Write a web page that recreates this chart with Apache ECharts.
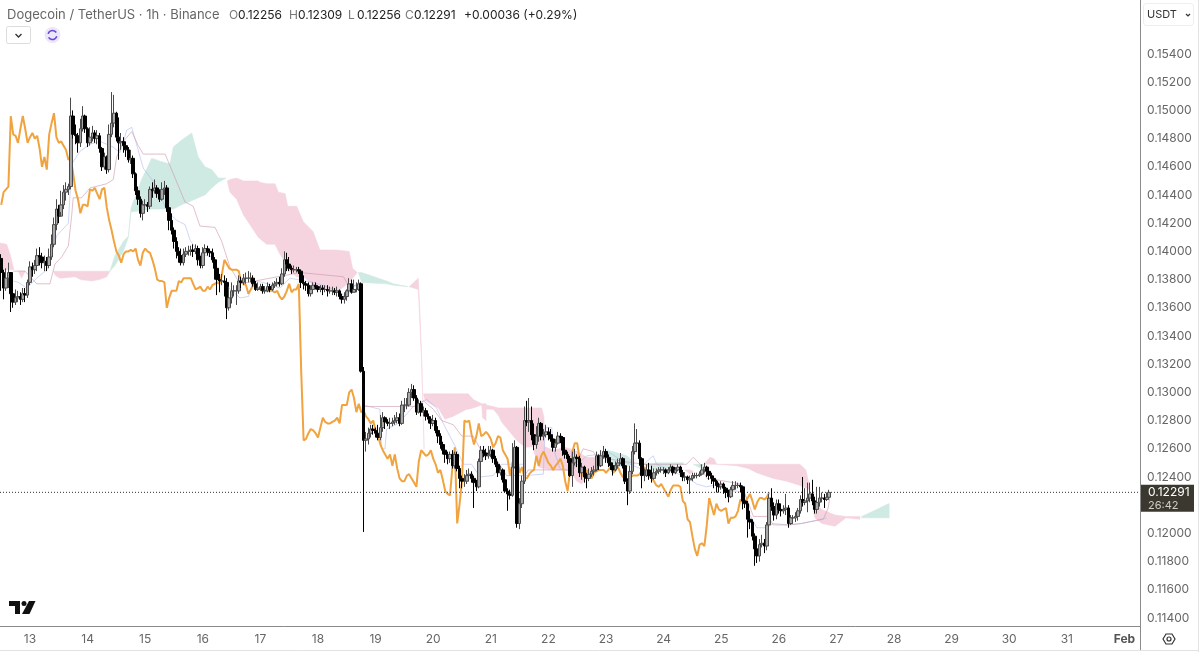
<!DOCTYPE html>
<html><head><meta charset="utf-8"><title>DOGE/USDT</title>
<style>html,body{margin:0;padding:0;background:#fff}#c{width:1199px;height:652px}</style>
<script src="https://cdn.jsdelivr.net/npm/echarts@6/dist/echarts.min.js"></script></head>
<body><div id="c"></div>
<script>
const firstOpen = 0.1395;
const chikouShift = 25;
const closes = [
.1385,.1374,.1381,.1385,.1370,.1364,.1367,.1368,.1366,.1370,.1369,.1378,.1389,.1387,.1390,.1397,.1396,.1392,.1393,.1390,.1396,.1405,.1419,.1430,.1425,
.1433,.1442,.1444,.1446,.1496,.1483,.1482,.1477,.1487,.1496,
.1487,.1477,.1481,.1484,.1480,.1482,.1473,.1460,.1467,.1458,
.1483,.1491,.1498,.1481,.1477,.1478,.1475,.1472,.1465,.1466,
.1455,.1443,.1437,.1427,.1433,.1433,.1432,.1444,.1443,.1445,
.1441,.1437,.1444,.1445,.1431,.1422,.1415,.1407,.1400,.1397,
.1392,.1398,.1400,.1400,.1401,.1400,.1402,.1394,.1390,.1399,
.1402,.1400,.1399,.1394,.1388,.1380,.1379,.1379,.1378,.1360,
.1367,.1372,.1372,.1372,.1379,.1378,.1381,.1381,.1381,.1381,
.1377,.1373,.1374,.1375,.1372,.1372,.1375,.1373,.1376,.1377,
.1378,.1377,.1384,.1394,.1391,.1388,.1387,.1387,.1387,.1386,
.1378,.1377,.1376,.1370,.1373,.1376,.1375,.1373,.1374,.1373,
.1373,.1372,.1372,.1372,.1371,.1372,.1368,.1366,.1368,.1372,
.1377,.1371,.1373,.1373,.1377,.1315,.1266,.1267,.1271,.1274,
.1273,.1271,.1268,.1275,.1282,.1279,.1278,.1278,.1279,.1280,
.1282,.1278,.1291,.1291,.1291,.1300,.1302,.1296,.1286,.1292,
.1286,.1287,.1283,.1281,.1278,.1280,.1273,.1269,.1263,.1259,
.1256,.1253,.1256,.1248,.1256,.1246,.1239,.1237,.1237,.1241,
.1242,.1239,.1236,.1233,.1251,.1259,.1257,.1255,.1256,.1259,
.1253,.1249,.1243,.1245,.1238,.1230,.1228,.1227,.1247,.1261,
.1207,.1221,.1237,.1280,.1279,.1280,.1270,.1263,.1269,.1278,
.1269,.1270,.1272,.1270,.1267,.1261,.1264,.1269,.1268,.1259,
.1256,.1253,.1241,.1250,.1254,.1253,.1243,.1247,.1240,.1239,
.1242,.1244,.1245,.1255,.1248,.1255,.1258,.1254,.1250,.1248,
.1245,.1248,.1250,.1253,.1248,.1237,.1230,.1244,.1258,.1264,
.1264,.1253,.1241,.1241,.1245,.1241,.1239,.1243,.1244,.1245,
.1245,.1245,.1243,.1245,.1247,.1243,.1245,.1247,.1243,.1240,
.1240,.1238,.1239,.1241,.1241,.1241,.1242,.1245,.1247,.1244,
.1241,.1239,.1237,.1234,.1233,.1235,.1232,.1229,.1226,.1231,
.1234,.1234,.1234,.1233,.1223,.1221,.1210,.1208,.1198,.1189,
.1184,.1192,.1193,.1191,.1206,.1225,.1219,.1213,.1221,.1217,
.1216,.1217,.1218,.1207,.1211,.1211,.1212,.1216,.1224,.1222,
.1223,.1225,.1228,.1223,.1217,.1222,.1225,.1225,.1224,.12256,.12291];
const highs = [
.1398,.1387,.1388,.1392,.1385,.1372,.1373,.1372,.1371,.1374,.1374,.1380,.1393,.1392,.1394,.1402,.1403,.1399,.1397,.1396,.1402,.1412,.1424,.1437,.1433,
.1443,.1447,.1449,.1448,.1509,.1500,.1490,.1484,.1494,.1503,
.1497,.1488,.1488,.1489,.1486,.1486,.1484,.1474,.1470,.1468,
.1490,.1513,.1511,.1499,.1495,.1484,.1481,.1478,.1474,.1472,
.1468,.1456,.1446,.1439,.1436,.1437,.1435,.1446,.1449,.1451,
.1447,.1444,.1449,.1450,.1447,.1432,.1427,.1417,.1410,.1403,
.1402,.1402,.1403,.1404,.1404,.1405,.1405,.1404,.1397,.1403,
.1405,.1404,.1402,.1402,.1396,.1390,.1384,.1384,.1383,.1381,
.1375,.1378,.1376,.1376,.1383,.1382,.1384,.1385,.1386,.1385,
.1383,.1379,.1378,.1377,.1377,.1375,.1378,.1377,.1378,.1379,
.1381,.1382,.1388,.1400,.1399,.1396,.1390,.1390,.1389,.1389,
.1386,.1383,.1379,.1378,.1376,.1378,.1378,.1376,.1376,.1376,
.1376,.1376,.1375,.1375,.1374,.1375,.1373,.1370,.1371,.1373,
.1381,.1380,.1380,.1378,.1380,.1378,.1318,.1272,.1275,.1277,
.1277,.1275,.1277,.1284,.1286,.1283,.1281,.1282,.1282,.1284,
.1286,.1285,.1294,.1296,.1296,.1303,.1306,.1305,.1298,.1295,
.1294,.1290,.1289,.1285,.1283,.1284,.1282,.1276,.1271,.1265,
.1261,.1258,.1258,.1259,.1258,.1258,.1248,.1241,.1242,.1245,
.1246,.1244,.1241,.1238,.1253,.1262,.1262,.1260,.1262,.1262,
.1260,.1255,.1251,.1248,.1246,.1240,.1232,.1231,.1264,.1266,
.1262,.1225,.1241,.1290,.1294,.1296,.1290,.1278,.1276,.1282,
.1279,.1274,.1277,.1275,.1274,.1269,.1267,.1272,.1271,.1269,
.1262,.1258,.1255,.1258,.1260,.1256,.1255,.1250,.1248,.1243,
.1246,.1247,.1248,.1258,.1256,.1259,.1262,.1260,.1256,.1254,
.1250,.1251,.1253,.1257,.1254,.1250,.1239,.1248,.1262,.1278,
.1274,.1266,.1254,.1246,.1249,.1250,.1248,.1246,.1246,.1247,
.1247,.1247,.1246,.1247,.1249,.1248,.1247,.1249,.1248,.1245,
.1243,.1241,.1241,.1243,.1243,.1243,.1244,.1249,.1250,.1248,
.1245,.1243,.1241,.1238,.1236,.1237,.1236,.1233,.1231,.1233,
.1237,.1237,.1236,.1236,.1234,.1228,.1223,.1216,.1210,.1200,
.1192,.1196,.1199,.1196,.1208,.1228,.1232,.1222,.1224,.1224,
.1220,.1220,.1228,.1220,.1213,.1213,.1215,.1218,.1227,.1240,
.1232,.1236,.1236,.1238,.1226,.1233,.1233,.1229,.1228,.1229,.12309];
const lows = [
.1372,.1366,.1372,.1374,.1357,.1360,.1362,.1364,.1362,.1364,.1364,.1367,.1376,.1382,.1384,.1386,.1390,.1388,.1386,.1386,.1388,.1394,.1403,.1415,.1420,
.1428,.1430,.1436,.1440,.1444,.1480,.1476,.1470,.1474,.1485,
.1484,.1474,.1475,.1478,.1477,.1476,.1470,.1457,.1458,.1455,
.1456,.1481,.1488,.1478,.1465,.1472,.1470,.1467,.1463,.1462,
.1452,.1440,.1433,.1424,.1422,.1428,.1428,.1430,.1438,.1441,
.1438,.1435,.1436,.1440,.1428,.1415,.1412,.1402,.1395,.1392,
.1390,.1390,.1396,.1397,.1397,.1396,.1398,.1390,.1388,.1388,
.1396,.1397,.1396,.1392,.1380,.1369,.1371,.1376,.1368,.1352,
.1358,.1363,.1368,.1362,.1370,.1374,.1376,.1377,.1378,.1378,
.1375,.1372,.1372,.1372,.1370,.1370,.1371,.1371,.1372,.1374,
.1375,.1375,.1376,.1382,.1386,.1386,.1384,.1385,.1385,.1384,
.1374,.1373,.1372,.1368,.1368,.1372,.1373,.1371,.1371,.1369,
.1371,.1368,.1370,.1369,.1369,.1368,.1366,.1363,.1363,.1365,
.1370,.1370,.1371,.1371,.1372,.1314,.1201,.1258,.1263,.1268,
.1270,.1268,.1266,.1266,.1272,.1274,.1276,.1274,.1276,.1277,
.1278,.1276,.1277,.1286,.1288,.1290,.1296,.1294,.1284,.1285,
.1283,.1283,.1280,.1278,.1274,.1276,.1271,.1264,.1260,.1256,
.1250,.1249,.1250,.1246,.1246,.1244,.1232,.1232,.1233,.1235,
.1237,.1236,.1218,.1230,.1232,.1249,.1254,.1252,.1253,.1254,
.1250,.1247,.1240,.1241,.1236,.1229,.1216,.1224,.1226,.1246,
.1204,.1203,.1218,.1235,.1276,.1272,.1266,.1259,.1260,.1265,
.1266,.1266,.1268,.1266,.1265,.1258,.1258,.1263,.1264,.1255,
.1253,.1250,.1240,.1233,.1248,.1247,.1240,.1238,.1236,.1232,
.1237,.1240,.1241,.1244,.1245,.1247,.1253,.1250,.1247,.1245,
.1241,.1244,.1246,.1249,.1246,.1235,.1220,.1228,.1242,.1256,
.1258,.1248,.1232,.1237,.1240,.1238,.1236,.1238,.1241,.1242,
.1243,.1242,.1240,.1242,.1244,.1241,.1242,.1244,.1240,.1237,
.1237,.1235,.1228,.1237,.1239,.1239,.1240,.1241,.1243,.1240,
.1238,.1235,.1232,.1229,.1229,.1231,.1228,.1225,.1222,.1225,
.1229,.1231,.1232,.1229,.1217,.1218,.1197,.1203,.1195,.1177,
.1179,.1180,.1190,.1186,.1188,.1204,.1216,.1209,.1210,.1214,
.1212,.1214,.1213,.1204,.1206,.1207,.1208,.1209,.1214,.1219,
.1220,.1215,.1222,.1220,.1214,.1214,.1219,.1222,.1218,.1223,.12256];

// thin Ichimoku lines, [hour, price] vertices
const tenkan = [[5.1,.1379],[7.1,.1378],[10.6,.1374],[14.8,.1381],[19,.1387],[23.1,.1411],[28,.1420],[29.4,.1462],[32.8,.1471],[37,.1476],[41.2,.1478],[46.7,.1474],[49.5,.1470],[52.3,.1486],[54.4,.1488],[59.2,.1459],[64.1,.1448],[69,.1429],[73.1,.1422],[76.6,.1419],[78.7,.1408],[82.8,.1398],[88.4,.1396],[90.5,.1381],[99.5,.1367],[103,.1368],[105,.1379],[109.2,.1378],[116.2,.1374],[120.3,.1381],[130.1,.1378],[140.5,.1372],[144,.1367],[146,.1375],[149.5,.1376],[150.9,.1291],[157.8,.1288],[158.5,.1260],[159.9,.1260],[160.6,.1274],[165.5,.1278],[171.7,.1290],[177.3,.1295],[181.4,.1289],[184.2,.1278],[189.1,.1262],[192.6,.1249],[196,.1249],[199.5,.1240],[205,.1241],[208.5,.1249],[217.6,.1249],[218.3,.1241],[225.9,.1242],[226.6,.1275],[229.4,.1275],[230,.1261],[232.8,.1246],[237,.1244],[244,.1255],[253.7,.1257],[259.2,.1251],[266.2,.1246],[269.6,.1252],[271.7,.1255],[273.1,.1249],[286.3,.1239],[289.8,.1235],[293.9,.1233],[299.5,.1235],[303,.1230],[306.4,.1230],[309.9,.1229],[312,.1213],[314.8,.1204],[319,.1204],[321.7,.1207],[327.3,.1206],[333.5,.1207],[343.9,.1211]];
const kijun = [[5.1,.1386],[9.9,.1386],[14.8,.1377],[20.3,.1377],[22.4,.1391],[25.2,.1396],[28,.1404],[29.4,.1426],[30,.1438],[33.5,.1438],[37,.1445],[44,.1448],[46.7,.1451],[48.1,.1467],[50.9,.1478],[54.4,.1485],[57.1,.1475],[59.2,.1469],[68.3,.1469],[71,.1458],[76.6,.1435],[80,.1432],[82.8,.1418],[89.1,.1417],[91.9,.1407],[95.3,.1389],[99.5,.1377],[124.5,.1385],[142.6,.1382],[145.3,.1374],[149.5,.1378],[150.9,.1290],[173.1,.1290],[175.9,.1294],[180.1,.1288],[183.5,.1280],[188.4,.1277],[191.9,.1269],[196.7,.1269],[200.2,.1258],[205,.1256],[210.6,.1241],[218.2,.1241],[219.6,.1245],[238.4,.1245],[242.5,.1260],[246.7,.1258],[248.1,.1254],[267.6,.1249],[285.6,.1249],[288.4,.1254],[291.2,.1249],[294,.1239],[298.1,.1238],[305,.1236],[307.8,.1235],[310.6,.1225],[313.4,.1212],[319.6,.1212],[321.7,.1206],[328.7,.1206],[333.5,.1207],[342.5,.1210],[344.6,.1218],[345.3,.1226]];

// cloud patches, rows are [hour, upper price, lower price]
const cloudPink = [
[[-.5,.1406,.1387],[2.3,.1405,.1387],[3.7,.1398,.1387],[5.3,.1387,.1387]],
[[7.1,.1386,.1386],[8.5,.1386,.1381],[10,.1386,.1386]],
[[21.7,.1386,.1386],[22.5,.1386,.1383],[24.5,.1386,.1381],[30.8,.1386,.1382],[33,.1386,.1380],[37.7,.1386,.1379],[41,.1386,.1380],[44,.1386,.1382],[45.3,.1386,.1386]],
[[94.2,.1450,.1450],[95.3,.1451,.1442],[98.1,.1452,.1437],[100.9,.1450,.1426],[107.1,.1450,.1410],[107.8,.1449,.1409],[110.6,.1448,.1405],[114.1,.1448,.1405],[115.5,.1442,.1400],[118.3,.1441,.1392],[119.4,.1432,.1387],[123.1,.1432,.1382],[125.9,.1421,.1382],[130,.1414,.1376],[132.8,.1401,.1375],[139.8,.1401,.1371],[145,.1400,.1378],[146.4,.1388,.1381],[148.4,.1385,.1385]],
[[170,.1375,.1375],[173.8,.1381,.1373],[174.4,.1360,.1350],[175.2,.1325,.1320],[176.2,.1260,.1260]],
[[175.9,.1299,.1299],[176.6,.1299,.1294],[182.1,.1299,.1289],[184.9,.1299,.1281],[188.4,.1299,.1283],[193.9,.1299,.1288],[194.6,.1299,.1288],[196.7,.1295,.1289],[200.2,.1292,.1291],[200.6,.1292,.1282],[202,.1292,.1280],[202.1,.1291,.1288],[205,.1290,.1288],[207.1,.1289,.1284],[208.5,.1289,.1279],[214.8,.1289,.1266],[218.2,.1289,.1261],[225.2,.1289,.1262],[226.2,.1282,.1262]],
[[221.7,.1260,.1260],[223.8,.1262,.1247],[225.9,.1262,.1246],[230,.1259,.1245],[234.9,.1261,.1245],[237,.1260,.1245],[239.8,.1258,.1237],[241.9,.1256,.1235],[244,.1254,.1241],[247.4,.1254,.1246],[247.6,.1254,.1254]],
[[284.9,.1245,.1245],[287,.1245,.1242],[288.4,.1244,.1244]],
[[292.8,.1249,.1249],[295.3,.1254,.1249],[297,.1253,.1249],[298.1,.1249,.1249],[306.4,.1249,.1248],[311.3,.1249,.1246],[314.8,.1249,.1243],[321.7,.1249,.1239],[327.3,.1249,.1237],[332.8,.1249,.1234],[335.3,.1245,.1232],[337,.1232,.1231]],
[[337.7,.1225,.1224],[339,.1223,.1211],[341.9,.1217,.1207],[347.4,.1213,.1205],[352,.1212,.1211],[357.8,.1212,.1210]]];
const cloudTeal = [
[[45.3,.1386,.1386],[47.4,.1397,.1390],[50.9,.1407,.1400],[53,.1411,.1410],[54.1,.1431,.1428],[58.5,.1451,.1429],[62.7,.1466,.1430],[66.2,.1464,.1430],[70.3,.1462,.1430],[71.7,.1474,.1430],[75.2,.1479,.1433],[79.4,.1484,.1436],[82.1,.1467,.1438],[84.9,.1460,.1440],[87.7,.1458,.1445],[90.5,.1452,.1449],[93.7,.1452,.1452]],
[[148.8,.1385,.1385],[150.2,.1385,.1378],[160.6,.1379,.1377],[163.4,.1377,.1376],[169.6,.1375,.1375]],
[[250.9,.1257,.1255],[252.3,.1259,.1251],[255,.1258,.1248],[260.6,.1255,.1247],[262.7,.1252,.1250],[264.1,.1249,.1249]],
[[267.6,.1249,.1249],[273.1,.1250,.1244],[280,.1250,.1248],[284.2,.1250,.1249]],
[[288.4,.1249,.1249],[292.6,.1249,.1245]],
[[358.5,.1212,.1211],[364.8,.1217,.1211],[369.6,.1221,.1211],[370,.1221,.1211]]];

const yTicks = [.154,.152,.150,.148,.146,.144,.142,.140,.138,.136,.134,.132,.130,.128,.126,.124,.122,.120,.118,.116,.114];
const dayLabels = ['13','14','15','16','17','18','19','20','21','22','23','24','25','26','27','28','29','30','31','Feb'];
const dayHours = [12,36,60,84,108,132,156,180,204,228,252,276,300,324,348,372,396,420,444,468];
const legendTitle = 'Dogecoin / TetherUS · 1h · Binance';
const legendOHLC = [['O','0.12256'],['H','0.12309'],['L','0.12256'],['C','0.12291']];
const legendChange = '+0.00036 (+0.29%)';
const lastClose = 0.12291, countdown = '26:42';

const FONT = 'Inter, Roboto, "Liberation Sans", sans-serif';
const candles = closes.map((c,i)=>[i, i?closes[i-1]:firstOpen, c, lows[i], highs[i]]);
const chikou = closes.slice(chikouShift).map((c,i)=>[i,c]);
function cloudSeries(patches, color){
  return {type:'custom', coordinateSystem:'cartesian2d', silent:true, z:1,
    data:patches.map((p,i)=>[p[0][0],p[0][1],i]), encode:{x:0,y:1},
    renderItem(params,api){
      const p=patches[api.value(2)];
      const pts=p.map(r=>api.coord([r[0],r[1]])).concat(p.slice().reverse().map(r=>api.coord([r[0],r[2]])));
      return {type:'polygon',shape:{points:pts},style:{fill:color,stroke:color,lineWidth:.5}};
    }};
}
function thin(data,color){return {type:'line',data,symbol:'none',silent:true,z:2,lineStyle:{width:1,color}};}

const chart = echarts.init(document.getElementById('c'),null,{renderer:'canvas'});
chart.setOption({
  animation:false, backgroundColor:'#fff',
  grid:{left:0,right:59,top:0,bottom:26},
  xAxis:{type:'value',min:-.5,max:474.5,splitLine:{show:false},
    axisLine:{show:true,onZero:false,lineStyle:{color:'#8a8a8a',width:1}},axisTick:{show:false},
    axisLabel:{customValues:dayHours,margin:7,color:'#666',fontSize:12,fontFamily:FONT,hideOverlap:false,
      formatter:v=>{const s=dayLabels[dayHours.indexOf(v)];return s==='Feb'?'{b|Feb}':s;},
      rich:{b:{fontWeight:'bold',color:'#555',fontSize:12,fontFamily:FONT}}}},
  yAxis:{type:'value',position:'right',min:.11343,max:.15783,scale:true,splitLine:{show:false},
    axisLine:{show:true,onZero:false,lineStyle:{color:'#8a8a8a',width:1}},axisTick:{show:false},
    axisLabel:{customValues:yTicks,margin:7,color:'#666',fontSize:12,fontFamily:FONT,formatter:v=>v.toFixed(5)}},
  series:[
    cloudSeries(cloudPink,'#f5d3df'),
    cloudSeries(cloudTeal,'#cfe9e3'),
    thin(tenkan,'rgba(170,180,235,.55)'),
    thin(kijun,'rgba(205,150,170,.6)'),
    {type:'line',data:chikou,symbol:'none',silent:true,z:3,lineStyle:{width:2,color:'#f0a33e'}},
    {type:'line',data:[[-.5,lastClose],[474.5,lastClose]],symbol:'none',silent:true,z:4,lineStyle:{width:1,type:[1,2],color:'#333'}},
    {type:'candlestick',data:candles,encode:{x:0,y:[1,2,3,4]},barWidth:3,silent:true,z:5,
      itemStyle:{color:'#a8a8a8',color0:'#000',borderColor:'#4a4a4a',borderColor0:'#000',borderWidth:1}}
  ]
});
const py = chart.convertToPixel({yAxisIndex:0},lastClose);
const txt=(text,x,y,fill,size,weight)=>({type:'text',z:50,style:{text,x,y,fill,font:(weight?weight+' ':'')+size+'px '+FONT,verticalAlign:'middle'}});
const g=[
  txt(legendTitle,7,15,'#666',13),
  {type:'rect',z:50,shape:{x:6.5,y:26.5,width:24,height:17,r:2},style:{fill:'#fff',stroke:'#dcdcdc',lineWidth:1}},
  {type:'polyline',z:51,shape:{points:[[15.5,34],[18.5,37],[21.5,34]]},style:{stroke:'#333',fill:'none',lineWidth:1.3}},
  {type:'circle',z:50,shape:{cx:52.5,cy:35,r:8},style:{fill:'#ece6fb'}},
  {type:'arc',z:51,shape:{cx:52.5,cy:35,r:4.5,startAngle:3.4,endAngle:5.7},style:{stroke:'#6b46d9',fill:'none',lineWidth:1.6}},
  {type:'arc',z:51,shape:{cx:52.5,cy:35,r:4.5,startAngle:.3,endAngle:2.6},style:{stroke:'#6b46d9',fill:'none',lineWidth:1.6}},
  txt(legendChange,464,15,'#222',12),
  {type:'rect',z:50,shape:{x:1143.5,y:3.5,width:50,height:22,r:3},style:{fill:'#fff',stroke:'#eee',lineWidth:1}},
  txt('USDT',1147,15,'#333',11),
  {type:'polyline',z:51,shape:{points:[[1186,14],[1188,16],[1190,14]]},style:{stroke:'#333',fill:'none',lineWidth:1.2}},
  // price tag
  {type:'rect',z:60,shape:{x:1141,y:py-7.5,width:53,height:27},style:{fill:'#3b392f'}},
  {type:'text',z:61,style:{text:lastClose.toFixed(5),x:1148,y:py+0.5,fill:'#fff',font:'12px '+FONT,verticalAlign:'middle'}},
  {type:'text',z:61,style:{text:countdown,x:1148,y:py+13,fill:'#cfcfc8',font:'11px '+FONT,verticalAlign:'middle'}},
  // frame
  {type:'line',z:40,shape:{x1:1140.5,y1:626,x2:1140.5,y2:650},style:{stroke:'#8a8a8a',lineWidth:1}},
  {type:'line',z:40,shape:{x1:0,y1:650.5,x2:1199,y2:650.5},style:{stroke:'#e2e2e2',lineWidth:1}},
  {type:'line',z:40,shape:{x1:1198.5,y1:0,x2:1198.5,y2:652},style:{stroke:'#e2e2e2',lineWidth:1}},
  // settings icon
  {type:'polygon',z:50,shape:{points:[[1163,639],[1166,634],[1172,634],[1175,639],[1172,644],[1166,644]]},style:{fill:'none',stroke:'#333',lineWidth:1.2}},
  {type:'circle',z:50,shape:{cx:1169,cy:639,r:2},style:{fill:'none',stroke:'#333',lineWidth:1.2}},
  // TradingView mark
  {type:'polygon',z:50,shape:{points:[[9,601],[20,601],[20,614],[15,614],[15,606],[9,606]]},style:{fill:'#111'}},
  {type:'circle',z:50,shape:{cx:24,cy:603.5,r:2.5},style:{fill:'#111'}},
  {type:'polygon',z:50,shape:{points:[[29,601],[35.5,601],[29.5,614],[22,614]]},style:{fill:'#111'}}
];
let lx=[229,289,348,405];
legendOHLC.forEach((r,i)=>{g.push(txt(r[0],lx[i],15,'#777',12));g.push(txt(r[1],lx[i]+9,15,'#222',12));});
chart.setOption({graphic:{elements:g}});
</script></body></html>
